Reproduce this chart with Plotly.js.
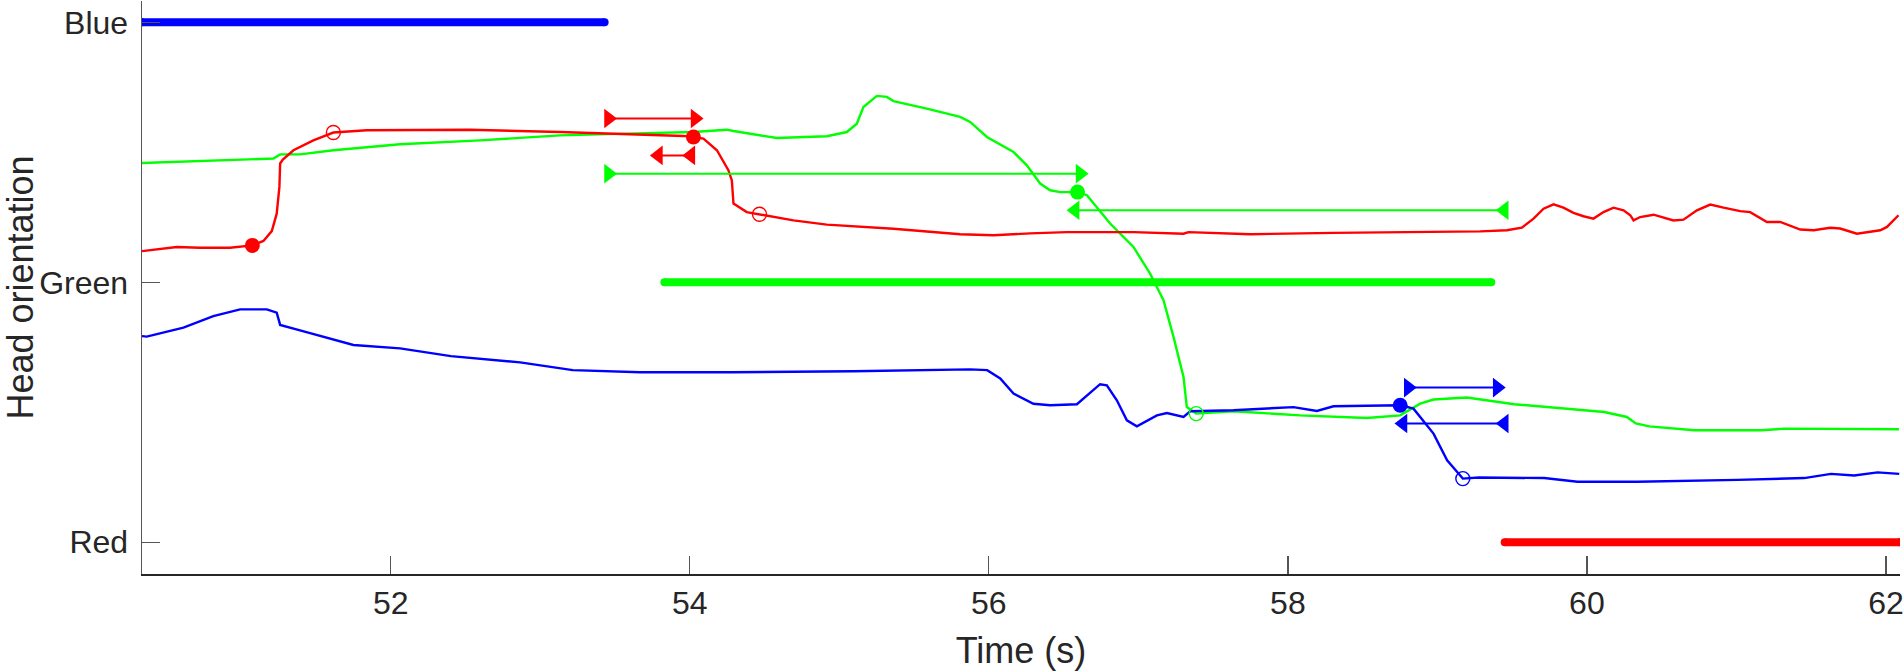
<!DOCTYPE html>
<html>
<head>
<meta charset="utf-8">
<script src="https://cdn.plot.ly/plotly-3.0.1.min.js"></script>
<style>
  html, body { margin: 0; padding: 0; background: #fff; }
  #plotDiv { width: 1904px; height: 671px; }
</style>
</head>
<body>
<div id="plotDiv"></div>
<script>
// Head orientation traces (Red = 0, Green = 1, Blue = 2)
var redT = [50.336, 50.569, 50.724, 50.925, 51.074, 51.148, 51.204, 51.237, 51.255, 51.260, 51.278, 51.349, 51.482, 51.616, 51.839, 52.062, 52.530, 53.132, 53.355, 53.690, 53.957, 54.024, 54.091, 54.181, 54.258, 54.281, 54.292, 54.381, 54.466, 54.693, 54.916, 55.362, 55.808, 56.031, 56.276, 56.522, 56.967, 57.302, 57.335, 57.748, 58.305, 58.974, 59.286, 59.465, 59.565, 59.643, 59.710, 59.777, 59.843, 59.910, 59.977, 60.044, 60.111, 60.178, 60.245, 60.290, 60.312, 60.356, 60.446, 60.579, 60.646, 60.736, 60.825, 60.914, 61.025, 61.092, 61.204, 61.293, 61.427, 61.516, 61.627, 61.694, 61.806, 61.962, 62.007, 62.084];
var redY = [1.120, 1.136, 1.133, 1.133, 1.142, 1.159, 1.197, 1.264, 1.367, 1.457, 1.472, 1.508, 1.546, 1.576, 1.585, 1.585, 1.587, 1.578, 1.574, 1.569, 1.563, 1.559, 1.553, 1.508, 1.431, 1.392, 1.303, 1.270, 1.262, 1.238, 1.222, 1.206, 1.185, 1.181, 1.188, 1.193, 1.193, 1.187, 1.193, 1.185, 1.190, 1.193, 1.196, 1.200, 1.210, 1.245, 1.283, 1.300, 1.287, 1.267, 1.254, 1.245, 1.270, 1.287, 1.277, 1.258, 1.238, 1.251, 1.260, 1.238, 1.241, 1.277, 1.299, 1.287, 1.274, 1.270, 1.232, 1.232, 1.203, 1.200, 1.210, 1.207, 1.187, 1.200, 1.213, 1.258];

var greenT = [50.336, 50.724, 51.215, 51.260, 51.393, 51.616, 51.839, 52.062, 52.597, 53.132, 53.579, 54.024, 54.247, 54.292, 54.582, 54.916, 55.050, 55.117, 55.161, 55.251, 55.318, 55.362, 55.585, 55.808, 55.875, 55.987, 56.165, 56.254, 56.343, 56.410, 56.477, 56.593, 56.656, 56.811, 56.967, 57.079, 57.168, 57.235, 57.302, 57.324, 57.387, 57.636, 58.082, 58.528, 58.751, 58.885, 58.974, 59.197, 59.514, 60.116, 60.267, 60.327, 60.417, 60.718, 61.166, 61.318, 62.087];
var greenY = [1.459, 1.467, 1.476, 1.492, 1.492, 1.508, 1.520, 1.531, 1.546, 1.565, 1.572, 1.578, 1.587, 1.582, 1.555, 1.562, 1.578, 1.610, 1.674, 1.717, 1.713, 1.697, 1.668, 1.636, 1.617, 1.559, 1.501, 1.450, 1.380, 1.354, 1.347, 1.347, 1.335, 1.226, 1.136, 1.033, 0.931, 0.790, 0.636, 0.520, 0.495, 0.504, 0.488, 0.478, 0.488, 0.533, 0.549, 0.557, 0.531, 0.501, 0.482, 0.457, 0.446, 0.431, 0.431, 0.437, 0.435];

var blueT = [50.336, 50.368, 50.613, 50.813, 50.992, 51.171, 51.237, 51.260, 51.393, 51.616, 51.750, 52.062, 52.402, 52.865, 53.217, 53.668, 54.276, 55.092, 55.875, 55.989, 56.076, 56.165, 56.298, 56.410, 56.589, 56.744, 56.789, 56.856, 56.923, 56.990, 57.124, 57.191, 57.302, 57.347, 57.636, 58.037, 58.194, 58.305, 58.751, 58.840, 58.974, 59.065, 59.170, 59.276, 59.714, 59.937, 60.339, 61.007, 61.453, 61.632, 61.788, 61.944, 62.089];
var blueY = [0.793, 0.791, 0.826, 0.870, 0.896, 0.896, 0.883, 0.836, 0.815, 0.781, 0.759, 0.746, 0.716, 0.692, 0.662, 0.654, 0.654, 0.658, 0.665, 0.662, 0.630, 0.572, 0.533, 0.527, 0.531, 0.608, 0.604, 0.546, 0.469, 0.446, 0.488, 0.497, 0.482, 0.504, 0.508, 0.520, 0.505, 0.523, 0.527, 0.514, 0.418, 0.315, 0.245, 0.249, 0.247, 0.233, 0.233, 0.240, 0.247, 0.263, 0.257, 0.269, 0.263];

// Event markers: filled = start, open = end
var redDotT = [51.074, 54.024];
var redDotY = [1.142, 1.559];
var redRingT = [51.616, 54.466];
var redRingY = [1.576, 1.262];
var greenDotT = [56.593];
var greenDotY = [1.347];
var greenRingT = [57.387];
var greenRingY = [0.495];
var blueDotT = [58.751];
var blueDotY = [0.527];
var blueRingT = [59.170];
var blueRingY = [0.245];

// Interval arrows (forward = triangle-right, back = triangle-left)
var redFwdT = [53.456, 54.035];
var redFwdY = [1.630, 1.630];
var redBackT = [53.790, 54.007];
var redBackY = [1.488, 1.488];
var greenFwdT = [53.456, 56.610];
var greenFwdY = [1.418, 1.418];
var greenBackT = [56.577, 59.447];
var greenBackY = [1.277, 1.277];
var blueFwdT = [58.805, 59.400];
var blueFwdY = [0.595, 0.595];
var blueBackT = [58.770, 59.447];
var blueBackY = [0.457, 0.457];

// Choice periods
var blueBarT = [50.336, 53.430];
var greenBarT = [53.830, 59.360];
var redBarT = [59.450, 62.094];

var levelVals = [0, 1, 2];
var levelNames = ['Red', 'Green', 'Blue'];
var timeTicks = [52, 54, 56, 58, 60, 62];

var RED = 'rgb(255,0,0)';
var GREEN = 'rgb(0,255,0)';
var BLUE = 'rgb(0,0,255)';

function curve(t, y, color) {
    return {
        x: t, y: y,
        type: 'scatter', mode: 'lines',
        line: { color: color, width: 2.4 },
        hoverinfo: 'skip'
    };
}

function dots(t, y, color, open) {
    return {
        x: t, y: y,
        type: 'scatter', mode: 'markers',
        marker: open
            ? { symbol: 'circle-open', size: 14, color: color, line: { color: color, width: 1.4 } }
            : { symbol: 'circle', size: 15, color: color },
        hoverinfo: 'skip'
    };
}

function arrow(t, y, color, symbol) {
    return {
        x: t, y: y,
        type: 'scatter', mode: 'lines+markers',
        line: { color: color, width: 2 },
        marker: { symbol: symbol, size: 17, color: color },
        hoverinfo: 'skip'
    };
}

function bar(t, level, color) {
    return {
        x: t, y: [level, level],
        type: 'scatter', mode: 'lines+markers',
        line: { color: color, width: 8 },
        marker: { symbol: 'circle', size: 8, color: color },
        hoverinfo: 'skip'
    };
}

var data = [
    bar(blueBarT, levelVals[2], BLUE),
    bar(greenBarT, levelVals[1], GREEN),
    bar(redBarT, levelVals[0], RED),
    curve(greenT, greenY, GREEN),
    curve(redT, redY, RED),
    curve(blueT, blueY, BLUE),
    dots(redDotT, redDotY, RED, false),
    dots(redRingT, redRingY, RED, true),
    dots(greenDotT, greenDotY, GREEN, false),
    dots(greenRingT, greenRingY, GREEN, true),
    dots(blueDotT, blueDotY, BLUE, false),
    dots(blueRingT, blueRingY, BLUE, true),
    arrow(redFwdT, redFwdY, RED, 'triangle-right'),
    arrow(redBackT, redBackY, RED, 'triangle-left'),
    arrow(greenFwdT, greenFwdY, GREEN, 'triangle-right'),
    arrow(greenBackT, greenBackY, GREEN, 'triangle-left'),
    arrow(blueFwdT, blueFwdY, BLUE, 'triangle-right'),
    arrow(blueBackT, blueBackY, BLUE, 'triangle-left')
];

var layout = {
    width: 1904,
    height: 671,
    margin: { l: 142, r: 4, t: 1, b: 97 },
    paper_bgcolor: '#fff',
    plot_bgcolor: '#fff',
    showlegend: false,
    font: { family: 'Liberation Sans, Arial, sans-serif', color: '#262626' },
    xaxis: {
        range: [50.336, 62.094],
        tickvals: timeTicks,
        ticks: 'inside',
        ticklen: 18,
        tickwidth: 1.3,
        tickcolor: '#555',
        tickfont: { size: 32, color: '#262626' },
        showline: true,
        linecolor: '#262626',
        linewidth: 2,
        showgrid: false,
        zeroline: false,
        title: { text: 'Time (s)', font: { size: 36, color: '#262626' }, standoff: 24 }
    },
    yaxis: {
        range: [-0.122, 2.082],
        tickvals: levelVals,
        ticktext: levelNames,
        ticks: 'inside',
        ticklen: 18,
        tickwidth: 1.3,
        tickcolor: '#555',
        tickfont: { size: 32, color: '#262626' },
        ticklabelstandoff: 6,
        showline: true,
        linecolor: '#555',
        linewidth: 1.5,
        showgrid: false,
        zeroline: false,
        title: { text: 'Head orientation', font: { size: 36, color: '#262626' }, standoff: 10 }
    }
};

Plotly.newPlot('plotDiv', data, layout, { displayModeBar: false, staticPlot: true });
</script>
</body>
</html>
